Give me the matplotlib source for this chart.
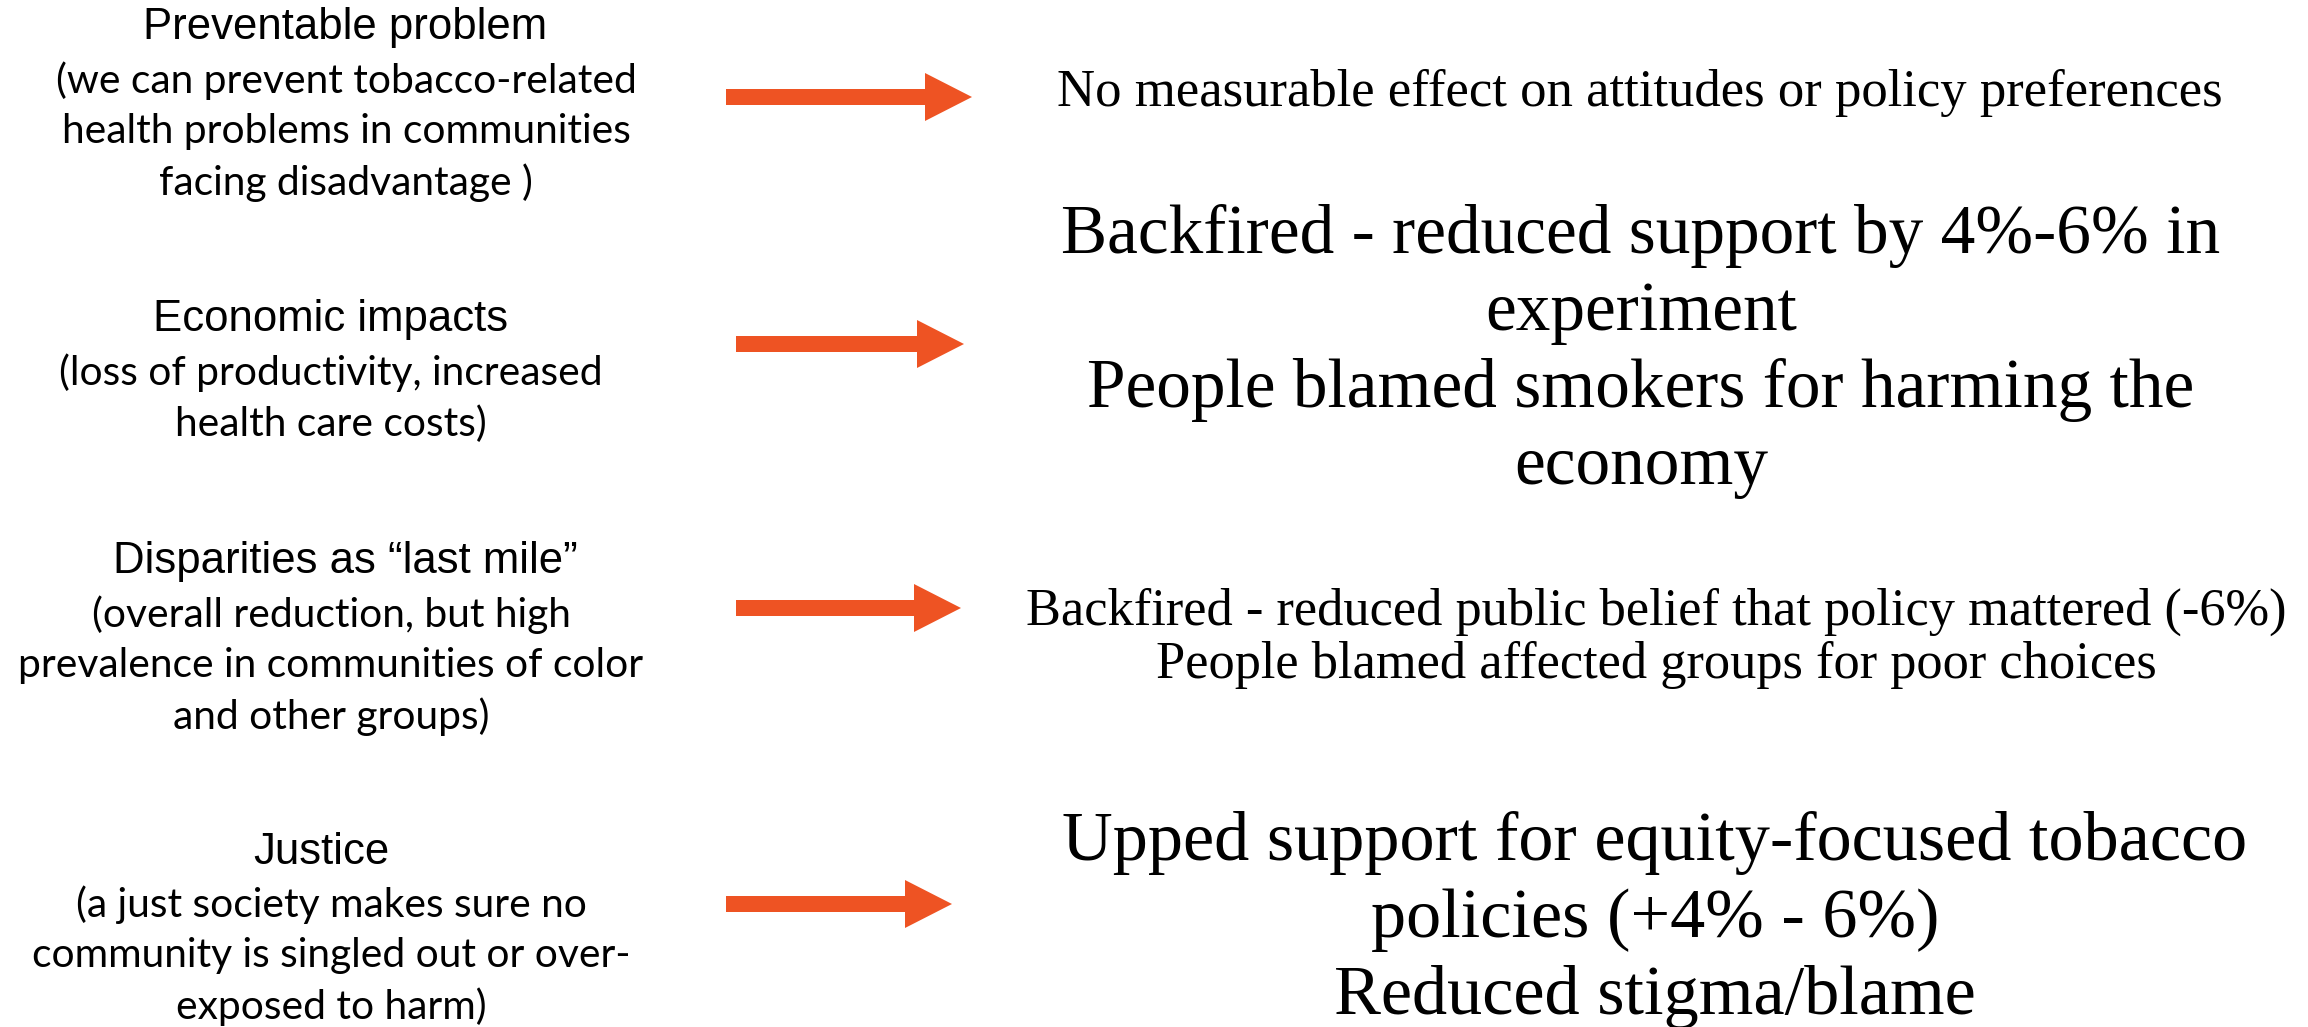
import matplotlib
matplotlib.use("Agg")
import matplotlib.pyplot as plt
from matplotlib.patches import FancyArrow

# ---------------- data ----------------
frame_titles = ["Preventable problem", "Economic impacts",
                "Disparities as \u201clast mile\u201d", "Justice"]
frame_details = [
    ["(we can prevent tobacco-related", "health problems in communities", "facing disadvantage )"],
    ["(loss of productivity, increased", "health care costs)"],
    ["(overall reduction, but high", "prevalence in communities of color", "and other groups)"],
    ["(a just society makes sure no", "community is singled out or over-", "exposed to harm)"],
]
effects = [
    ["No measurable effect on attitudes or policy preferences"],
    ["Backfired - reduced support by 4%-6% in", "experiment",
     "People blamed smokers for harming the", "economy"],
    ["Backfired - reduced public belief that policy mattered (-6%)",
     "People blamed affected groups for poor choices"],
    ["Upped support for equity-focused tobacco", "policies (+4% - 6%)",
     "Reduced stigma/blame"],
]

# ---------------- layout ----------------
W, H = 2308, 1027
ARROW_COLOR = "#EE5323"
title_cx = [345, 331, 345, 321]
detail_cx = [346, 331, 331, 331]
title_y = [28, 320, 562, 852]
detail_offset = 53
detail_step = 51
arrow_y = [97, 344, 608, 904]
arrow_x = [(726, 972), (736, 964), (736, 961), (726, 952)]
effect_cx = [1640, 1641, 1656, 1655]
effect_y0 = [93, 236, 612, 843]
effect_step = [0, 77, 53, 77]
effect_target_w = [1166, 1157, 1260, 1185]

fig = plt.figure(figsize=(W / 100, H / 100), dpi=100)
ax = fig.add_axes([0, 0, 1, 1])
ax.set_xlim(0, W)
ax.set_ylim(H, 0)
ax.axis("off")
renderer = fig.canvas.get_renderer()


def fit_size(text, family, target_w, base=30):
    t = ax.text(0, 0, text, fontsize=base, family=family)
    w = t.get_window_extent(renderer).width
    t.remove()
    return base * target_w / w


title_font = ["Liberation Sans", "DejaVu Sans"]
detail_font = ["Lato", "DejaVu Sans"]
effect_font = ["Liberation Serif", "DejaVu Serif"]

title_size = fit_size("Preventable problem", title_font, 403)
detail_size = fit_size("prevalence in communities of color", detail_font, 625)

for i, title in enumerate(frame_titles):
    ax.text(title_cx[i], title_y[i], title, ha="center", va="center",
            fontsize=title_size, family=title_font, color="black")
    for j, line in enumerate(frame_details[i]):
        ax.text(detail_cx[i], title_y[i] + detail_offset + detail_step * j, line,
                ha="center", va="center", fontsize=detail_size,
                family=detail_font, color="black")

for i, lines in enumerate(effects):
    x0, x1 = arrow_x[i]
    ax.add_patch(FancyArrow(x0, arrow_y[i], x1 - x0, 0, width=16,
                            head_width=48, head_length=47,
                            length_includes_head=True,
                            color=ARROW_COLOR, lw=0))
    size = fit_size(lines[0], effect_font, effect_target_w[i])
    for j, line in enumerate(lines):
        ax.text(effect_cx[i], effect_y0[i] + effect_step[i] * j, line,
                ha="center", va="center", fontsize=size,
                family=effect_font, color="black")

fig.savefig("out.png", dpi=100, facecolor="white")
